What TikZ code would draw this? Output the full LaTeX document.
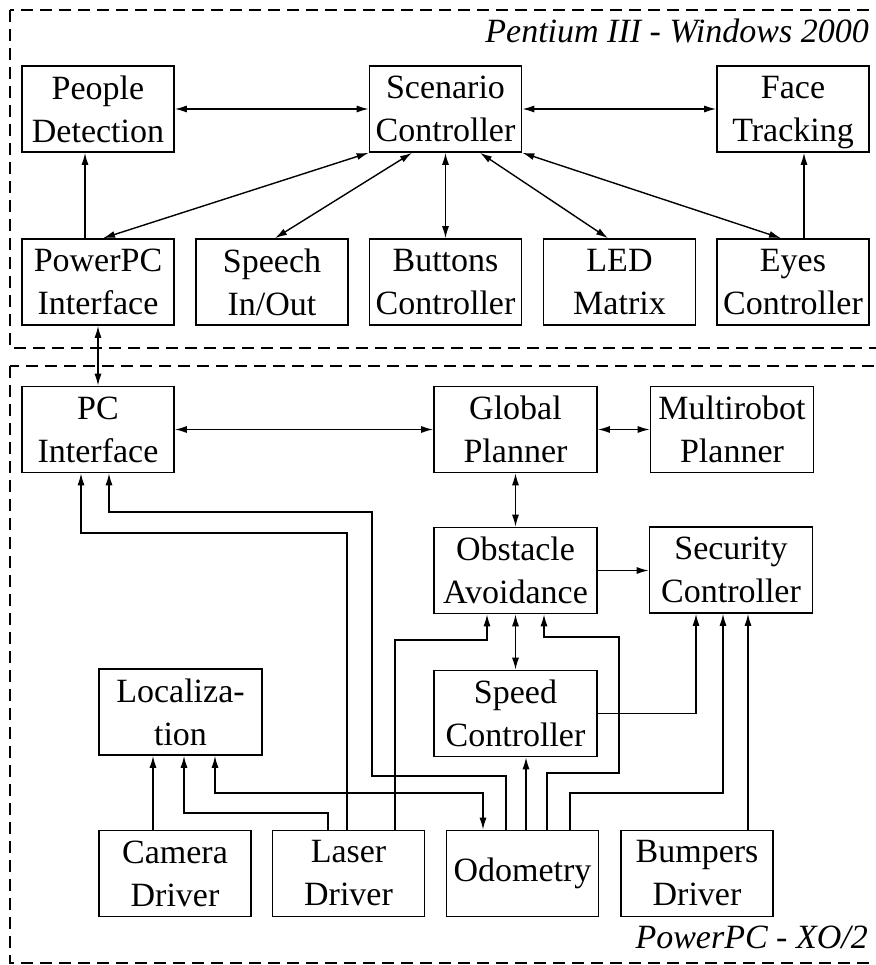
\documentclass[tikz,border=0pt]{standalone}
\usepackage{fontspec}
\setmainfont{Liberation Serif}
\usetikzlibrary{arrows.meta}
\newcommand{\nodepth}[1]{\raisebox{0pt}[\height][0pt]{#1}}
\begin{document}
\begin{tikzpicture}[x=1pt,y=-1pt,
  box/.style={draw, line width=1.6pt, minimum width=152pt, minimum height=86pt, inner sep=0pt, align=center, font=\fontsize{34}{43}\selectfont},
  wbox/.style={box, minimum width=163pt},
  conn/.style={line width=1.4pt},
  arr/.style={conn, -{Latex[length=12pt,width=7pt]}},
  darr/.style={conn, {Latex[length=12pt,width=7pt]}-{Latex[length=12pt,width=7pt]}},
  zone/.style={line width=1.6pt, dash pattern=on 12pt off 7pt},
  zlabel/.style={font=\fontsize{34}{43}\selectfont\itshape, inner sep=0pt}]
\useasboundingbox (0,0) rectangle (875,965);
% zones
\draw[zone] (10,10) rectangle (890,348);
\draw[zone] (10,366) rectangle (890,963);
\node[zlabel, anchor=base east] (ztop) at (869,43) {Pentium III - Windows 2000};
\node[zlabel, anchor=base east] (zbot) at (868,948) {PowerPC - XO/2};
% top nodes
\node[box] (ppl) at (98,109) {People\\Detection};
\node[box] (scen) at (445.5,109) {Scenario\\Controller};
\node[box] (face) at (793,109) {Face\\\nodepth{Tracking}};
\node[box] (ppc) at (98,282) {PowerPC\\Interface};
\node[box] (speech) at (272,282) {Speech\\In/Out};
\node[box] (btn) at (445.5,282) {Buttons\\Controller};
\node[box] (led) at (619.5,282) {LED\\Matrix};
\node[box] (eyes) at (793,282) {Eyes\\Controller};
% bottom nodes
\node[box] (pci) at (98,429.5) {PC\\Interface};
\node[wbox] (glob) at (515.5,429.5) {Global\\Planner};
\node[wbox] (multi) at (732,429.5) {Multirobot\\Planner};
\node[wbox] (obst) at (515.5,570.5) {Obstacle\\Avoidance};
\node[wbox] (sec) at (731,570) {Security\\Controller};
\node[wbox] (loc) at (180.5,712) {Localiza-\\tion};
\node[wbox] (speed) at (515.5,713.5) {Speed\\Controller};
\node[box] (cam) at (175,873.5) {Camera\\Driver};
\node[box] (laser) at (348.5,873.5) {Laser\\Driver};
\node[box] (odo) at (522.5,873.5) {Odometry};
\node[box] (bump) at (697,873.5) {Bumpers\\Driver};
% top connectors
\draw[darr] (ppl.east) -- (scen.west);
\draw[darr] (scen.east) -- (face.west);
\draw[arr] ([xshift=-13pt]ppc.north) -- ([xshift=-13pt]ppl.south);
\draw[arr] ([xshift=11pt]eyes.north) -- ([xshift=11pt]face.south);
\draw[darr] (scen.south west) -- ([xshift=5pt]ppc.north);
\draw[darr] ([xshift=-33.5pt]scen.south) -- ([xshift=3pt]speech.north);
\draw[darr] (scen.south) -- (btn.north);
\draw[darr] ([xshift=34.5pt]scen.south) -- ([xshift=-11.5pt]led.north);
\draw[darr] (scen.south east) -- ([xshift=-12pt]eyes.north);
\draw[darr] (ppc.south) -- (pci.north);
% bottom connectors
\draw[darr] (pci.east) -- (glob.west);
\draw[darr] (glob.east) -- (multi.west);
\draw[darr] (glob.south) -- (obst.north);
\draw[arr] (obst.east) -- (obst.east -| sec.west);
\draw[darr] (obst.south) -- (speed.north);
\draw[arr] ([xshift=-22pt]cam.north) -- ([xshift=-27.5pt]loc.south);
\draw[arr] ([xshift=-20.5pt]laser.north) |- (184,813) -- ([xshift=3.5pt]loc.south);
\draw[darr] ([xshift=34.5pt]loc.south) |- (483,793) -- ([xshift=-39.5pt]odo.north);
\draw[arr] ([xshift=-1.5pt]laser.north) |- (81,533) -- ([xshift=-17pt]pci.south);
\draw[arr] ([xshift=46.5pt]laser.north) |- (487,640) -- ([xshift=-28.5pt]obst.south);
\draw[arr] ([xshift=-16.5pt]odo.north) |- (372,776) |- (109,512) -- ([xshift=11pt]pci.south);
\draw[arr] ([xshift=3.5pt]odo.north) -- ([xshift=10.5pt]speed.south);
\draw[arr] ([xshift=24.5pt]odo.north) |- (619,773) |- (544,637) -- ([xshift=28.5pt]obst.south);
\draw[arr] ([xshift=47.5pt]odo.north) |- (723,793) -- ([xshift=-8pt]sec.south);
\draw[arr] (speed.east) -| ([xshift=-35pt]sec.south);
\draw[arr] ([xshift=51pt]bump.north) -- ([xshift=17pt]sec.south);
\end{tikzpicture}
\end{document}
